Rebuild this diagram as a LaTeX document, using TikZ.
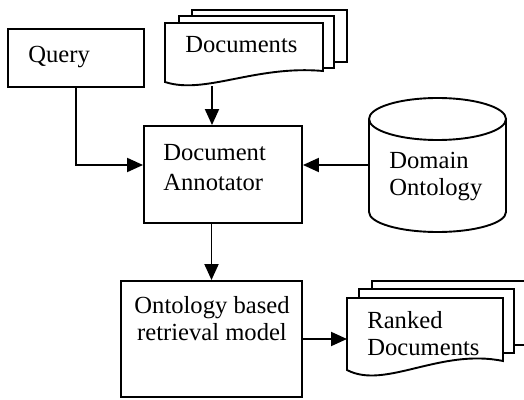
\documentclass[tikz,border=0pt]{standalone}
\usepackage{fontspec}
\setmainfont{Liberation Serif}
\usetikzlibrary{arrows.meta}

\tikzset{
  box/.style={draw, line width=0.95pt, inner sep=0pt},
  txt/.style={inner sep=0pt, align=left, font=\fontsize{12.3}{13.5}\selectfont},
  sheet/.style={draw, fill=white, line width=0.95pt},
  flow/.style={line width=0.95pt, -{Triangle[length=8pt,width=7pt]}}
}

\begin{document}
\begin{tikzpicture}[x=0.5pt,y=-0.5pt]
  \useasboundingbox (0,0) rectangle (524,400);

  % Query box
  \node[box, minimum width=68pt, minimum height=29pt] (query) at (76,58) {};
  \node[txt, anchor=base west] (querytxt) at (28,63) {Query};

  % Documents stack
  \draw[sheet] (192,10) rectangle (347,62);
  \draw[sheet] (179,16) rectangle (334,68);
  \draw[sheet] (165,23) -- (323,23) -- (323,71) .. controls (255,65) and (205,95) .. (165,82) -- cycle;
  \node[txt, anchor=base west] (docs) at (185,53) {Documents};
  \coordinate (docsout) at (212,86);

  % Annotator
  \node[box, minimum width=79pt, minimum height=48.5pt] (annot) at (223,174.5) {};
  \node[txt, anchor=north west] (annottxt) at (163,144) {Document\\[1.5pt]Annotator};

  % Domain Ontology cylinder
  \draw[sheet] (369,119) -- (369,212) arc[start angle=180, end angle=0, x radius=68.5, y radius=20] -- (506,119);
  \draw[sheet] (437.5,119) ellipse[x radius=68.5, y radius=21];
  \node[txt, anchor=north west] (onto) at (389,152) {Domain\\Ontology};
  \coordinate (ontoin) at (369,165);

  % Retrieval model
  \node[box, minimum width=90.5pt, minimum height=58pt] (retr) at (211.5,339) {};
  \node[txt, align=center, anchor=north] (retrtxt) at (212,296) {Ontology based\\retrieval model};

  % Ranked documents
  \draw[sheet] (372,281) rectangle (530,345);
  \draw[sheet] (359,289) rectangle (514,353);
  \draw[sheet] (347,298) -- (503,298) -- (503,361) .. controls (440,348) and (385,390) .. (347,370) -- cycle;
  \node[txt, anchor=north west] (ranked) at (367,311) {Ranked\\Documents};
  \coordinate (rankedin) at (347,339);

  % Arrows
  \draw[flow] (query.south) |- (annot.west |- ontoin);
  \draw[flow] (docsout) -- (docsout |- annot.north);
  \draw[flow] (ontoin) -- (annot.east |- ontoin);
  \draw[flow] (retr.north |- annot.south) -- (retr.north);
  \draw[flow] (retr.east) -- (rankedin);
\end{tikzpicture}
\end{document}
